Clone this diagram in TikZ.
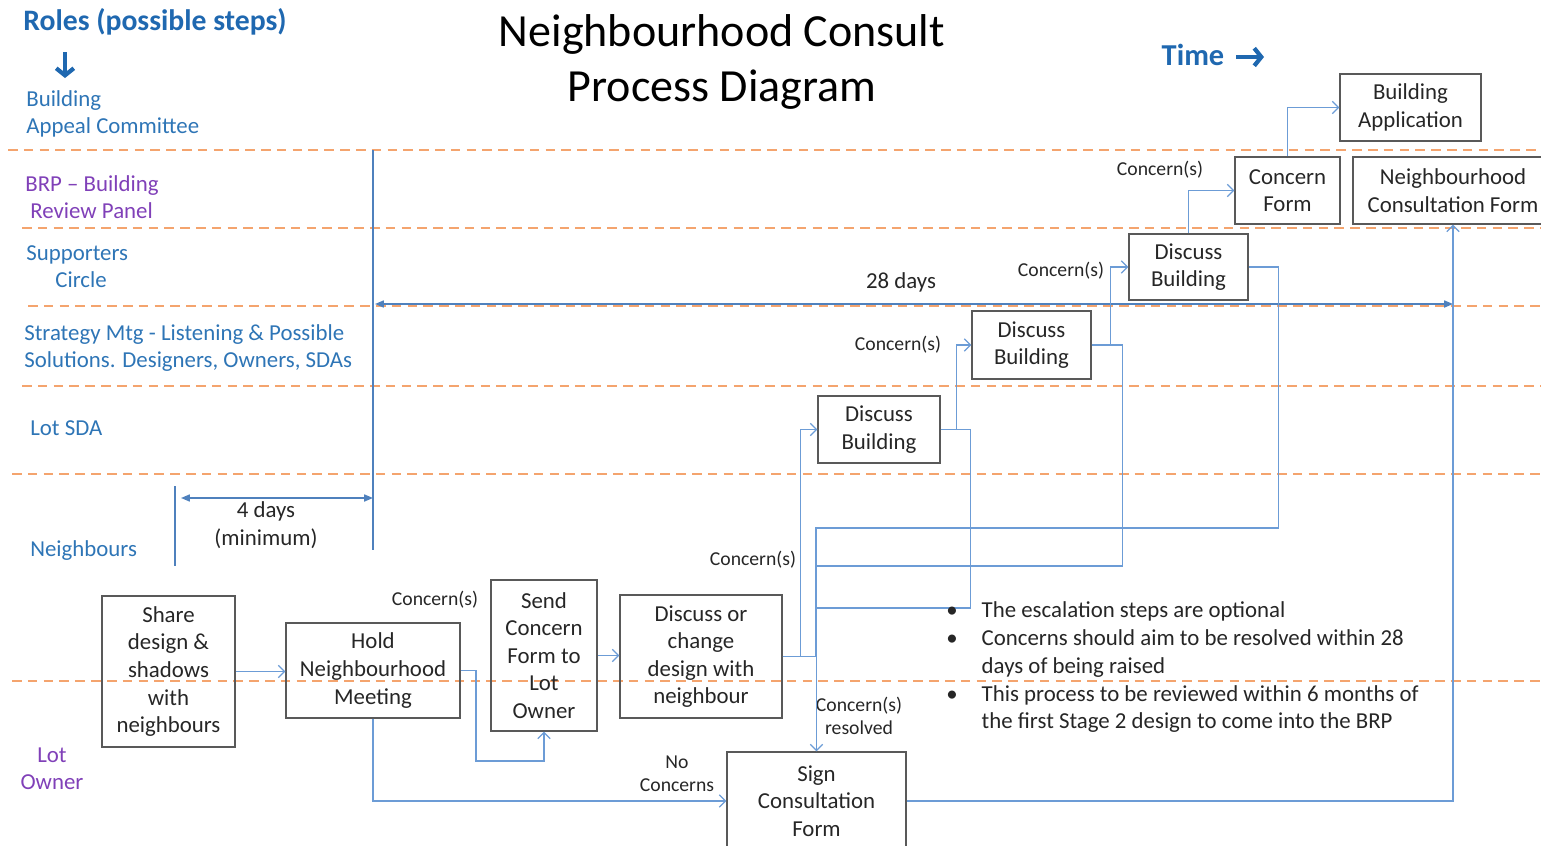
\documentclass[tikz,border=0pt]{standalone}
\usepackage{fontspec}
\setmainfont{Carlito}
\usetikzlibrary{arrows.meta}
\definecolor{laneblue}{RGB}{46,117,182}
\definecolor{rolesblue}{RGB}{31,104,176}
\definecolor{lanepurple}{RGB}{128,64,184}
\definecolor{linkblue}{RGB}{108,156,214}
\definecolor{spanblue}{RGB}{79,129,189}
\definecolor{laneorange}{RGB}{244,164,110}
\definecolor{boxgrey}{RGB}{89,89,89}
\definecolor{txt}{RGB}{38,38,38}
\begin{document}
\begin{tikzpicture}[x=0.02cm,y=-0.02cm,
  lane/.style={laneorange,line width=0.9pt,dash pattern=on 5.5pt off 3.5pt},
  role/.style={laneblue,inner sep=0,anchor=west,align=left,font=\fontsize{13}{15.4}\selectfont},
  stepbox/.style={draw=boxgrey,line width=0.8pt,text=txt,inner sep=0,align=center,font=\fontsize{13}{15.7}\selectfont},
  label/.style={text=txt,inner sep=0,align=center,font=\fontsize{13}{15.7}\selectfont},
  note/.style={text=txt,inner sep=0,align=center,font=\fontsize{11.2}{13}\selectfont},
  link/.style={linkblue,line width=0.7pt,-{Straight Barb[length=3.5pt,width=7pt]}},
  wire/.style={linkblue,line width=0.7pt},
  span/.style={spanblue,line width=0.8pt},
  big/.style={rolesblue,line width=2.4pt,-{Straight Barb[length=4pt,width=10pt]}}]
\useasboundingbox (0,0) rectangle (1541,845);

\foreach \y/\x in {150/8,228/22,306/28,386/22,474/12,681/12}
  \draw[lane] (\x,\y) -- (1541,\y);

\node[rolesblue,inner sep=0,anchor=west,font=\bfseries\fontsize{16.9}{20}\selectfont] (roles) at (23,22) {Roles (possible steps)};
\draw[big] (65,52) -- (65,78);
\node[text=black,align=center,font=\fontsize{26.2}{31.7}\selectfont] (title) at (722,62) {Neighbourhood Consult\\Process Diagram};
\node[rolesblue,inner sep=0,font=\bfseries\fontsize{17.3}{20}\selectfont] (time) at (1193,55) {Time};
\draw[big] (1236,57) -- (1264,57);

\node[role] (bac) at (26,113.5) {Building\\Appeal Committee};
\node[role,lanepurple] (brp) at (25,197.5) {BRP – Building\\\hspace{0.1cm}Review Panel};
\node[role] (sup) at (26,266.5) {Supporters\\\hspace{0.58cm}Circle};
\node[role] (strat) at (24,348) {Strategy Mtg - Listening \& Possible\\Solutions. Designers, Owners, SDAs};
\node[role] (sda) at (30,428) {Lot SDA};
\node[role] (nbr) at (30,551) {Neighbours};
\node[role,lanepurple,align=center,anchor=center] (owner) at (52,768.5) {Lot\\Owner};

\draw[span] (373,150) -- (373,550);
\draw[span] (175,486) -- (175,566);
\draw[span,{Triangle[length=5pt,width=4pt]}-{Triangle[length=5pt,width=4pt]}] (181,498) -- (373,498);
\node[label] (four) at (266,525) {4 days\\(minimum)};
\draw[span,{Triangle[length=5pt,width=4pt]}-{Triangle[length=5pt,width=4pt]}] (375,304) -- (1453,304);
\node[label] (twentyeight) at (901,282) {28 days};

\node[stepbox,minimum width=2.66cm,minimum height=3.02cm] (share) at (168.5,671.5) {Share\\design \&\\shadows\\with\\neighbours};
\node[stepbox,minimum width=3.48cm,minimum height=1.9cm] (hold) at (373,670.5) {Hold\\Neighbourhood\\Meeting};
\node[stepbox,minimum width=2.12cm,minimum height=3.02cm] (send) at (544,655.5) {Send\\Concern\\Form to\\Lot\\Owner};
\node[stepbox,minimum width=3.24cm,minimum height=2.46cm] (change) at (701,656.5) {Discuss or\\change\\design with\\neighbour};
\node[stepbox,minimum width=3.58cm,minimum height=1.96cm] (sign) at (816.5,801) {Sign\\Consultation\\Form};
\node[stepbox,minimum width=2.44cm,minimum height=1.34cm] (db1) at (879,429.5) {Discuss\\Building};
\node[stepbox,minimum width=2.38cm,minimum height=1.36cm] (db2) at (1031.5,345) {Discuss\\Building};
\node[stepbox,minimum width=2.38cm,minimum height=1.32cm] (db3) at (1188.5,267) {Discuss\\Building};
\node[stepbox,minimum width=2.1cm,minimum height=1.34cm] (cf) at (1287.5,190.5) {Concern\\Form};
\node[stepbox,minimum width=2.82cm,minimum height=1.34cm] (ba) at (1410.5,107.5) {Building\\Application};
\node[stepbox,minimum width=4.0cm,minimum height=1.34cm] (ncf) at (1453,190.5) {Neighbourhood\\Consultation Form};

\node[note] (c1) at (435,600) {Concern(s)};
\node[note] (c2) at (753,560) {Concern(s)};
\node[note] (c3) at (898,345) {Concern(s)};
\node[note] (c4) at (1061,271) {Concern(s)};
\node[note] (c5) at (1160,170) {Concern(s)};
\node[note] (res) at (859,716) {Concern(s)\\resolved};
\node[note] (none) at (677,773.5) {No\\Concerns};

\draw[link] (share.east) -- (share.east -| hold.west);
\draw[link] (hold.east) -| (476,761) -| (send.south);
\draw[link] (hold.south) |- (sign.west);
\draw[link] (send.east) -- (send.east -| change.west);
\draw[link] (change.east) -- ++(18,0) |- (db1.west);
\draw[link] (change.east) -| (sign.north);
\draw[link] (db1.east) -- ++(16,0) |- (db2.west);
\draw[wire] (db1.east) -- ++(30,0) |- (816,608);
\draw[link] (db2.east) -- ++(19,0) |- (db3.west);
\draw[wire] (db2.east) -- ++(31,0) |- (816,566);
\draw[link] (db3.north) |- (cf.west);
\draw[wire] (db3.east) -- ++(30,0) |- (816,528) -- (816,656.5);
\draw[link] (cf.north) |- (ba.west);
\draw[link] (sign.east) -| (ncf.south);

\node[text=txt,inner sep=0,anchor=west,font=\fontsize{13}{15.9}\selectfont] (notes) at (946,667.5) {\begin{tabular}{@{}l@{\hspace{0.48cm}}l@{}}
\textbullet & The escalation steps are optional\\
\textbullet & Concerns should aim to be resolved within 28\\
 & days of being raised\\
\textbullet & This process to be reviewed within 6 months of\\
 & the first Stage 2 design to come into the BRP
\end{tabular}};
\end{tikzpicture}
\end{document}
